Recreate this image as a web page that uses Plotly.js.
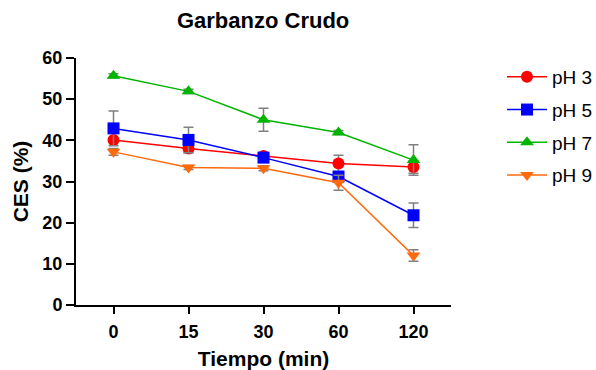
<!DOCTYPE html>
<html><head><meta charset="utf-8">
<script src="https://cdn.plot.ly/plotly-3.0.1.min.js"></script>
<style>html,body{margin:0;padding:0;background:#fff;}</style>
</head><body>
<div id="chart" style="width:596px;height:370px;"></div>
<script>
const categories = ["0", "15", "30", "60", "120"];
const seriesNames = ["pH 3", "pH 5", "pH 7", "pH 9"];
const ph3 = [40.1, 38.0, 36.2, 34.4, 33.5];
const ph5 = [42.9, 40.1, 35.8, 31.2, 21.8];
const ph7 = [55.7, 51.9, 45.0, 41.9, 35.2];
const ph9 = [37.2, 33.4, 33.2, 29.7, 12.0];
const ph3Err = [0.6, 1.0, 0.6, 2.0, 1.5];
const ph5Err = [4.2, 3.1, 0.8, 1.0, 3.0];
const ph7Err = [0.5, 0.5, 2.8, 0.5, 3.7];
const ph9Err = [0.8, 0.5, 0.6, 1.8, 1.4];

const values = [ph3, ph5, ph7, ph9];
const errs = [ph3Err, ph5Err, ph7Err, ph9Err];
const colors = ["#ff0000", "#0000ff", "#00b400", "#ff6a0d"];
const symbols = ["circle", "square", "triangle-up", "triangle-down"];
const sizes = [12, 12, 12, 12];

const font = "Liberation Sans, Arial, sans-serif";
const traces = values.map((v, i) => ({
  type: "scatter",
  mode: "lines+markers",
  x: categories,
  y: v,
  name: seriesNames[i],
  legendgroup: "g" + i,
  line: {color: colors[i], width: 1.5},
  marker: {color: colors[i], symbol: symbols[i], size: sizes[i]},
  error_y: {type: "data", array: errs[i], visible: true, color: "#808080", thickness: 1.5, width: 5}
}));

const layout = {
  width: 596, height: 370,
  margin: {l: 76, r: 145, t: 58, b: 65, autoexpand: false},
  paper_bgcolor: "#fff", plot_bgcolor: "#fff",
  font: {family: font, color: "#000"},
  title: {text: "<b>Garbanzo Crudo</b>", font: {size: 22, family: font, color: "#000"}, x: 0.4415, xanchor: "center", y: 0.946, yanchor: "middle"},
  xaxis: {
    type: "category", range: [-0.5, 4.5],
    showgrid: false, zeroline: false, automargin: false,
    showline: true, linecolor: "#000", linewidth: 2,
    ticks: "outside", ticklen: 7, tickwidth: 2, tickcolor: "#000",
    ticklabelstandoff: 2,
    tickfont: {size: 18, family: font, color: "#000", weight: "bold"},
    title: {text: "<b>Tiempo (min)</b>", font: {size: 21, family: font, color: "#000"}, standoff: 11}
  },
  yaxis: {
    range: [0, 60], dtick: 10, tick0: 0,
    showgrid: false, zeroline: false, automargin: false,
    showline: true, linecolor: "#000", linewidth: 2,
    ticks: "outside", ticklen: 8, tickwidth: 2, tickcolor: "#000",
    tickfont: {size: 18, family: font, color: "#000", weight: "bold"},
    title: {text: "<b>CES (%)</b>", font: {size: 21, family: font, color: "#000"}, standoff: 8}
  },
  legend: {
    x: 1.136, xanchor: "left", y: 1.0, yanchor: "top",
    font: {size: 19, family: font, color: "#000"},
    traceorder: "grouped", tracegroupgap: 5,
    itemwidth: 40, bgcolor: "rgba(0,0,0,0)"
  },
  showlegend: true
};

Plotly.newPlot("chart", traces, layout, {displayModeBar: false, staticPlot: true});
</script>
</body></html>
